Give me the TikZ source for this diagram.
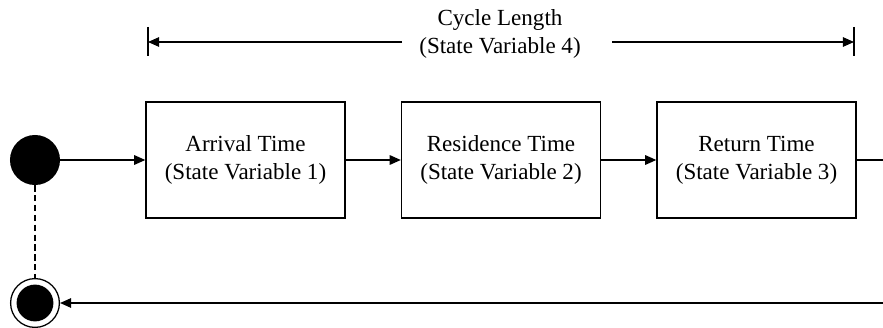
\documentclass[tikz,border=0pt]{standalone}
\usepackage{fontspec}
\setmainfont{Liberation Serif}
\usetikzlibrary{arrows.meta}

\begin{document}
\begin{tikzpicture}[x=0.025cm,y=-0.025cm,
		font=\fontsize{16.4}{19.9}\selectfont,
		statebox/.style={draw,line width=0.9pt,align=center,minimum width=4.975cm,minimum height=2.9cm},
		flow/.style={-{Triangle[length=0.28cm,width=0.24cm]},line width=0.9pt}]
		\useasboundingbox (0,0) rectangle (883,328);
		% start and end states
		\node[circle,fill,minimum size=1.25cm,inner sep=0pt] (start) at (35,160){};
		\node[circle,draw,line width=0.9pt,minimum size=1.22cm,inner sep=0pt] (stop) at (35,303){};
		\fill (stop) circle (0.46cm);
		% state variables
		\node[statebox] (arr) at (245.5,160){Arrival Time\\(State Variable 1)};
		\node[statebox] (res) at (501,160){Residence Time\\(State Variable 2)};
		\node[statebox] (ret) at (756.5,160){Return Time\\(State Variable 3)};
		\coordinate (outA) at (883,160);
		\coordinate (outB) at (883,303);
		\draw[flow] (start) -- (arr);
		\draw[flow] (arr) -- (res);
		\draw[flow] (res) -- (ret);
		\draw[line width=0.9pt] (ret) -- (outA);
		\draw[flow] (outB) -- (stop);
		\draw[dash pattern=on 4.5pt off 2.5pt,line width=0.8pt] (start) -- (stop);
		% cycle length
		\node[align=center] (len) at (500,34){Cycle Length\\(State Variable 4)};
		\coordinate (lenL) at (148,42);
		\coordinate (lenR) at (854,42);
		\coordinate (lenLa) at (402,42);
		\coordinate (lenRa) at (612,42);
		\draw[flow] (lenLa) -- (lenL);
		\draw[flow] (lenRa) -- (lenR);
		\draw[line width=0.9pt] (lenL) +(0,-15) -- +(0,14);
		\draw[line width=0.9pt] (lenR) +(0,-15) -- +(0,14);
\end{tikzpicture}
\end{document}
